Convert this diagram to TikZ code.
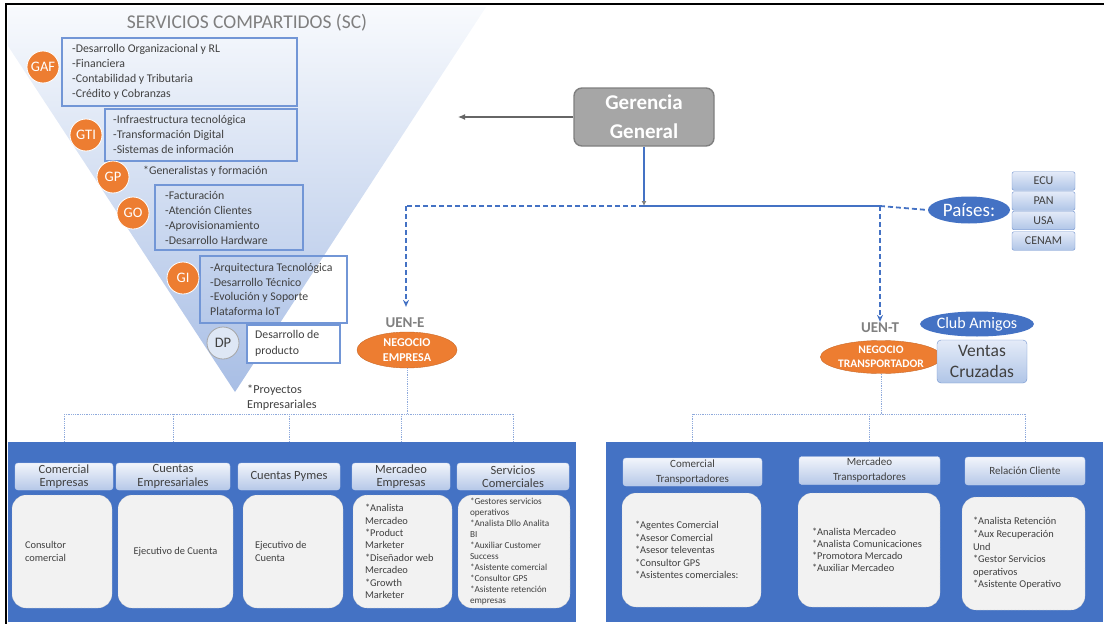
\documentclass[tikz,border=0pt]{standalone}
\usepackage{fontspec}
\setmainfont{Carlito}
\usetikzlibrary{arrows.meta,shapes.geometric}

\definecolor{scblue}{RGB}{68,114,196}
\definecolor{scorange}{RGB}{237,125,49}
\definecolor{sctext}{RGB}{64,64,64}
\definecolor{scgray}{RGB}{127,127,127}
\definecolor{tritop}{RGB}{248,250,253}
\definecolor{trimid}{RGB}{214,224,243}
\definecolor{tribot}{RGB}{168,190,229}
\definecolor{boxline}{RGB}{114,150,214}
\definecolor{hdrtop}{RGB}{242,245,251}
\definecolor{hdrbot}{RGB}{182,200,232}
\definecolor{hdrline}{RGB}{196,210,236}
\definecolor{ctrytop}{RGB}{228,235,248}
\definecolor{ctrybot}{RGB}{176,197,231}
\definecolor{ctryline}{RGB}{111,145,205}
\definecolor{cardfill}{RGB}{242,242,242}
\definecolor{busblue}{RGB}{143,170,220}
\definecolor{ggfill}{RGB}{166,166,166}
\definecolor{dpfill}{RGB}{222,231,245}

\newcommand{\fsz}[2]{\fontsize{#1}{#2}\selectfont}

\tikzset{
  sbox/.style 2 args={draw=boxline, line width=1.1, inner sep=0, minimum width=#1, minimum height=#2},
  sctxt/.style={anchor=west, align=left, inner sep=0, text=sctext, font=\fsz{11.8}{15}},
  unit/.style={circle, fill=scorange, draw=white, line width=0.8, minimum size=32, inner sep=0, text=white, font=\fsz{14.5}{16}},
  uen/.style={text=gray, font=\bfseries\fsz{15}{17}, inner sep=1},
  neg/.style={ellipse, fill=scorange, draw=scorange!85!black, minimum width=100, minimum height=36, inner sep=0, align=center, text=white, font=\bfseries\fsz{12}{15}},
  ctry/.style={rounded corners=2, top color=ctrytop, bottom color=ctrybot, draw=ctryline, minimum width=63, minimum height=18.5, inner sep=0, text=sctext, font=\fsz{12}{14}},
  panel/.style={fill=scblue, inner sep=0},
  hdr/.style={rounded corners=3, top color=hdrtop, bottom color=hdrbot, draw=hdrline, minimum height=27, inner sep=0, align=center, text=sctext, font=\fsz{12.5}{13.5}},
  card/.style={rounded corners=14, fill=cardfill, draw=gray!60, densely dotted, minimum height=113, inner sep=0},
  cardtxt/.style={anchor=west, align=left, inner sep=0, text=sctext, font=\fsz{10.4}{12.4}},
  solidblue/.style={draw=scblue, line width=1.3},
  dashblue/.style={draw=scblue, line width=1.8, dash pattern=on 5pt off 3pt},
  bus/.style={draw=busblue, line width=0.8, densely dotted}
}

\begin{document}
\begin{tikzpicture}[x=1pt, y=-1pt]

\def\ybus{414}; % bus line
\def\yjn{206}; % branch line

\useasboundingbox (0,0) rectangle (1104,624);

% shared services
\shade[top color=tritop, middle color=trimid, bottom color=tribot] (8,7) -- (486,7) -- (235,392) -- (8,46) -- cycle;
\node[font=\fsz{19.5}{22}, text=scgray] (sctitle) at (247,23) {SERVICIOS COMPARTIDOS (SC)};

\node[sbox={235}{68}] (gafbox) at (179.5,72) {};
\node[sctxt] (gaftxt) at (72,71.5) {-Desarrollo Organizacional y RL\\-Financiera\\-Contabilidad y Tributaria\\-Crédito y Cobranzas};
\node[unit] (gaf) at (43,67) {GAF};

\node[sbox={192}{52}] (gtibox) at (201,135) {};
\node[sctxt] (gtitxt) at (113,134) {-Infraestructura tecnológica\\-Transformación Digital\\-Sistemas de información};
\node[unit] (gti) at (86,135) {GTI};

\node[unit] (gp) at (113,177) {GP};
\node[sctxt] (gptxt) at (143,171) {*Generalistas y formación};

\node[sbox={148}{65}] (gobox) at (229,217.5) {};
\node[sctxt] (gotxt) at (165,217.5) {-Facturación\\-Atención Clientes\\-Aprovisionamiento\\-Desarrollo Hardware};
\node[unit] (go) at (133,213) {GO};

\node[sbox={147}{67}] (gibox) at (273.5,289.5) {};
\node[sctxt, font=\fsz{11.8}{14.5}] (gitxt) at (210,289.5) {-Arquitectura Tecnológica\\-Desarrollo Técnico\\-Evolución y Soporte\\Plataforma IoT};
\node[unit] (gi) at (183,278) {GI};

\node[sbox={93}{38}, fill=white] (dpbox) at (293.5,344) {};
\node[sctxt, font=\fsz{11.8}{16}] (dptxt) at (255,343) {Desarrollo de\\producto};
\node[unit, fill=dpfill, draw=gray!70, text=sctext] (dp) at (223,343) {DP};

\node[sctxt, font=\fsz{12.2}{15}] (pytxt) at (247,397.5) {*Proyectos\\Empresariales};

% management
\node[rounded corners=8, fill=ggfill, draw=scgray, line width=1.4, minimum width=140, minimum height=58, align=center, text=white, font=\bfseries\fsz{21}{29}] (ger) at (644,117) {Gerencia\\General};
\coordinate (scend) at (458,117);
\draw[gray!80!black, line width=1.2, -{Latex[length=7,width=6]}] (ger.west) -- (scend);

\node[ellipse, fill=scblue, minimum width=82, minimum height=27, inner sep=0, text=white, font=\fsz{19}{21}] (pais) at (969,210) {Países:};
\foreach \c/\y in {ECU/181,PAN/201,USA/220.5,CENAM/241}
  \node[ctry] (c\c) at (1043.5,\y) {\c};

\coordinate (jn) at (644,\yjn);
\coordinate (jl) at (406,\yjn);
\coordinate (jr) at (880,\yjn);

\node[uen] (uene) at (405,323) {UEN-E};
\node[neg] (ne) at (407,350) {NEGOCIO\\EMPRESA};
\node[uen] (uent) at (880,328) {UEN-T};
\node[neg, minimum width=103, minimum height=33, font=\bfseries\fsz{11.5}{14}] (nt) at (881,357) {NEGOCIO\\TRANSPORTADOR};

\node[ellipse, fill=scblue, minimum width=86, minimum height=25, inner sep=0, text=white, font=\fsz{16}{18}] (club) at (977,324) {Club Amigos};
\node[ctry, rounded corners=4, minimum width=90, minimum height=43, align=center, font=\fsz{17.5}{21}] (vc) at (982,361.5) {Ventas\\Cruzadas};

\draw[solidblue, -{Latex[color=gray, length=5, width=5]}] (ger.south) -- (jn);
\draw[dashblue] (jn) -- (jl);
\draw[solidblue] (jn) -- (jr);
\draw[dashblue] (jr) -- (pais.west);
\draw[dashblue, -{Stealth[length=7, width=6]}, shorten >=10] (jl) -- (jl |- uene.north);
\draw[dashblue, -{Stealth[length=7, width=6]}] (jr) -- (uent.north);

% business units
\node[panel, minimum width=568, minimum height=180] (pE) at (292,532) {};
\node[panel, minimum width=497, minimum height=180] (pT) at (854.5,532) {};

\foreach \n/\x/\w/\txt in {1/64/98/{Comercial\\Empresas}, 2/173/114/{Cuentas\\Empresariales}, 3/289/102/{Cuentas Pymes}, 4/401/98/{Mercadeo\\Empresas}, 5/513/112/{Servicios\\Comerciales}}
  \node[hdr, minimum width=\w] (hE\n) at (\x,476.5) {\txt};
\foreach \n/\x/\w in {1/62/100, 2/175.5/115, 3/293/100, 4/402.5/99, 5/514/112}
  \node[card, minimum width=\w] (cE\n) at (\x,551.5) {};

\node[cardtxt] (tE1) at ([xshift=13]cE1.west) {Consultor\\comercial};
\node[cardtxt, anchor=center] (tE2) at (cE2) {Ejecutivo de Cuenta};
\node[cardtxt] (tE3) at ([xshift=12]cE3.west) {Ejecutivo de\\Cuenta};
\node[cardtxt] (tE4) at ([xshift=12]cE4.west) {*Analista\\Mercadeo\\*Product\\Marketer\\*Diseñador web\\Mercadeo\\*Growth\\Marketer};
\node[cardtxt, font=\fsz{9.2}{11.1}] (tE5) at ([xshift=12]cE5.west) {*Gestores servicios\\operativos\\*Analista Dllo Analita\\BI\\*Auxiliar Customer\\Success\\*Asistente comercial\\*Consultor GPS\\*Asistente retención\\empresas};

\foreach \n/\x/\y/\w/\txt in {1/692.5/472/139/{Comercial\\Transportadores}, 2/869.5/470.5/141/{Mercadeo\\Transportadores}, 3/1025/471/120/{Relación Cliente}}
  \node[hdr, minimum width=\w, minimum height=28, font=\fsz{11}{15}] (hT\n) at (\x,\y) {\txt};
\node[card, minimum width=139, minimum height=114] (cT1) at (691.5,550) {};
\node[card, minimum width=142, minimum height=114] (cT2) at (869,550) {};
\node[card, minimum width=123] (cT3) at (1023.5,553.5) {};

\node[cardtxt] (tT1) at ([xshift=13]cT1.west) {*Agentes Comercial\\*Asesor Comercial\\*Asesor televentas\\*Consultor GPS\\*Asistentes comerciales:};
\node[cardtxt, font=\fsz{10.4}{12}] (tT2) at ([xshift=14]cT2.west) {*Analista Mercadeo\\*Analista Comunicaciones\\*Promotora Mercado\\*Auxiliar Mercadeo};
\node[cardtxt, font=\fsz{10.4}{12.6}] (tT3) at ([xshift=11]cT3.west) {*Analista Retención\\*Aux Recuperación\\Und\\*Gestor Servicios\\operativos\\*Asistente Operativo};

% dotted buses
\coordinate (bE) at (ne.south |- 0,\ybus);
\draw[bus] (ne.south) -- (bE);
\draw[bus] (hE1.north |- bE) -- (hE5.north |- bE);
\foreach \n in {1,...,5}
  \draw[bus] (hE\n.north |- bE) -- (hE\n.north |- pE.north);

\coordinate (bT) at (nt.south |- 0,\ybus);
\draw[bus] (nt.south) -- (bT);
\draw[bus] (hT1.north |- bT) -- (hT3.north |- bT);
\foreach \n in {1,...,3}
  \draw[bus] (hT\n.north |- bT) -- (hT\n.north |- pT.north);

% frame
\draw[line width=1.6] (6,624) -- (6,4) -- (1104,4);

\end{tikzpicture}
\end{document}
